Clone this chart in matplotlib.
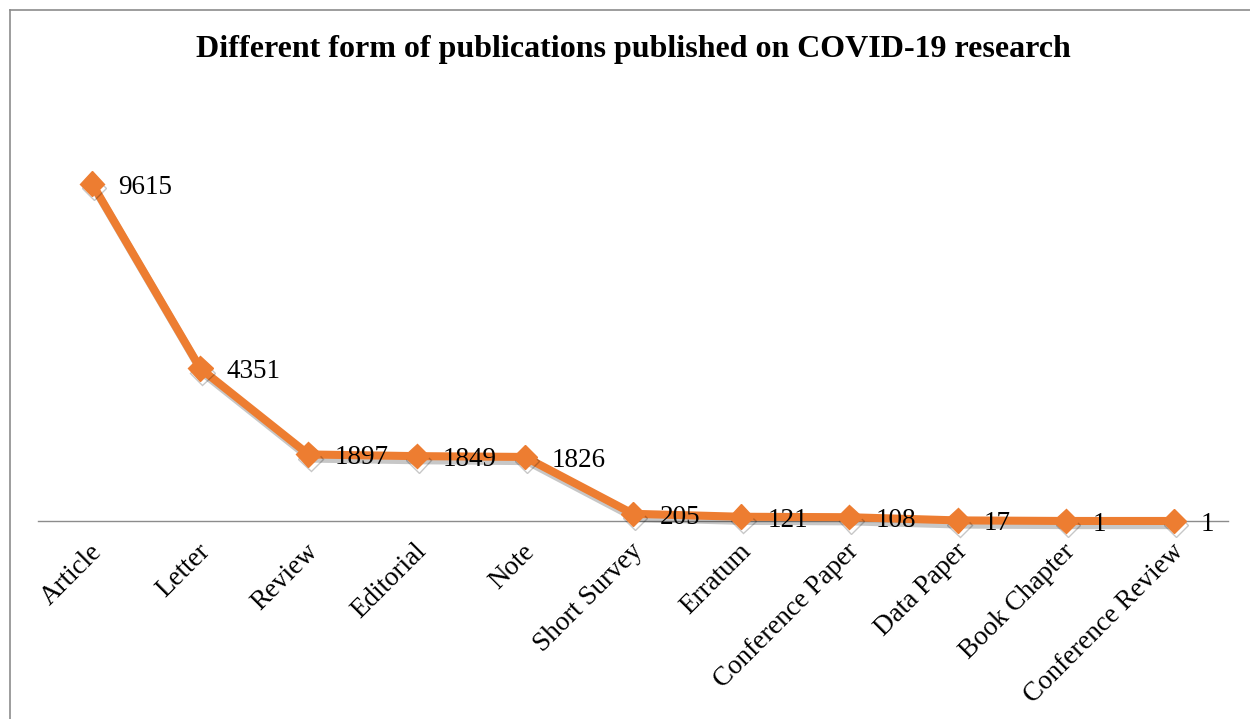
import matplotlib
matplotlib.use("Agg")
import matplotlib.pyplot as plt
from matplotlib.lines import Line2D
import matplotlib.patheffects as pe
import matplotlib.transforms as mtransforms

categories = ["Article", "Letter", "Review", "Editorial", "Note", "Short Survey",
              "Erratum", "Conference Paper", "Data Paper", "Book Chapter",
              "Conference Review"]
counts = [9615, 4351, 1897, 1849, 1826, 205, 121, 108, 17, 1, 1]
title = "Different form of publications published on COVID-19 research"

plt.rcParams['font.family'] = ['Liberation Serif', 'DejaVu Serif']

W, H = 1250, 719
fig = plt.figure(figsize=(W / 100, H / 100), dpi=100)
fig.patch.set_facecolor('white')

ax = fig.add_axes([38 / W, 1 - 521 / H, (1228 - 38) / W, (521 - 100) / H])
x = list(range(len(categories)))
orange = '#ED7D31'
ax.plot(x, counts, color=orange, lw=5.8, marker='D', markersize=12.5,
        markerfacecolor=orange, markeredgecolor=orange, solid_joinstyle='round',
        path_effects=[pe.SimpleLineShadow(offset=(1.5, -3), shadow_color='k', alpha=0.22),
                      pe.Normal()], zorder=3, clip_on=False)

for xi, v in zip(x, counts):
    ax.annotate(f"{v}", (xi, v), xytext=(19, -2.5), textcoords='offset points',
                ha='left', va='center', fontsize=19.5, color='black', zorder=4)

ax.set_xlim(-0.5, len(categories) - 0.5)
ax.set_ylim(0, 12000)
ax.set_yticks([])
for s in ['top', 'right', 'left']:
    ax.spines[s].set_visible(False)
ax.spines['bottom'].set_color('#8c8c8c')
ax.spines['bottom'].set_linewidth(1.0)
ax.set_xticks(x)
ax.set_xticklabels(categories, rotation=45, ha='right', rotation_mode='anchor',
                   fontsize=19.5)
ax.tick_params(axis='x', length=0, pad=13)
offset = mtransforms.ScaledTranslation(-3 / 100, 0, fig.dpi_scale_trans)
for lbl in ax.get_xticklabels():
    lbl.set_transform(lbl.get_transform() + offset)

fig.text(633 / W, 1 - 49 / H, title, ha='center', va='center',
         fontsize=23, fontweight='bold')

# outer chart border (top and left visible)
fig.add_artist(Line2D([9.5 / W, 9.5 / W], [0, 1 - 10 / H], transform=fig.transFigure,
                      color='#8c8c8c', lw=1.2))
fig.add_artist(Line2D([9.5 / W, 1], [1 - 10 / H, 1 - 10 / H], transform=fig.transFigure,
                      color='#8c8c8c', lw=1.2))

fig.savefig("out.png", dpi=100)
